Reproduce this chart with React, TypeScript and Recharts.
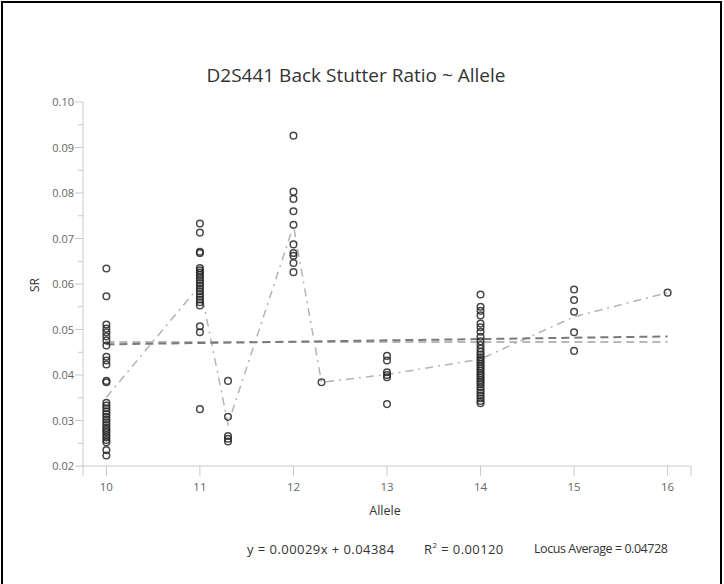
import { ScatterChart, Scatter, XAxis, YAxis } from 'recharts';

// ── Data ────────────────────────────────────────────────────────────
const ALLELES = [10, 11, 11.3, 12, 12.3, 13, 14, 15, 16];

const SR_10 = [
  0.0634, 0.0573, 0.0511, 0.0502, 0.0494, 0.0485, 0.0476, 0.0465, 0.044, 0.0432, 0.0423,
  0.0387, 0.0384, 0.0339, 0.0333, 0.0327, 0.032, 0.0314, 0.0308, 0.0302, 0.0296, 0.029,
  0.0284, 0.0279, 0.0274, 0.0268, 0.0263, 0.0257, 0.0252, 0.0235, 0.0223,
];
const SR_11 = [
  0.0733, 0.0713, 0.0671, 0.0668, 0.0635, 0.063, 0.0625, 0.062, 0.0614, 0.0608, 0.0602,
  0.0596, 0.059, 0.0584, 0.0578, 0.0572, 0.0566, 0.056, 0.0553, 0.0507, 0.0494, 0.0325,
];
const SR_11_3 = [0.0387, 0.0308, 0.0266, 0.026, 0.0254];
const SR_12 = [0.0926, 0.0803, 0.0787, 0.076, 0.073, 0.0687, 0.0668, 0.0662, 0.0646, 0.0626];
const SR_12_3 = [0.0384];
const SR_13 = [0.0442, 0.0432, 0.0406, 0.04, 0.0395, 0.0336];
const SR_14 = [
  0.0577, 0.055, 0.0541, 0.0531, 0.0513, 0.0505, 0.0495, 0.0484, 0.0474, 0.0466, 0.0458,
  0.0451, 0.0445, 0.0439, 0.0434, 0.0429, 0.0424, 0.0419, 0.0414, 0.0409, 0.0404, 0.0399,
  0.0394, 0.0389, 0.0384, 0.0379, 0.0373, 0.0367, 0.0361, 0.0355, 0.0349, 0.0343, 0.0338,
];
const SR_15 = [0.0588, 0.0565, 0.0539, 0.0494, 0.0453];
const SR_16 = [0.0581];

const SR_BY_ALLELE = [SR_10, SR_11, SR_11_3, SR_12, SR_12_3, SR_13, SR_14, SR_15, SR_16];

// per-allele averages (dash-dot line)
const ALLELE_MEANS = [0.0351, 0.0597, 0.0292, 0.0728, 0.0384, 0.0401, 0.0435, 0.0528, 0.0581];

const REG_SLOPE = 0.00029;
const REG_INTERCEPT = 0.04384;
const R_SQUARED = '0.00120';
const LOCUS_AVERAGE = 0.04728;
const LINE_SPAN = [10, 16];

const X_TICKS = [9.75, 10, 11, 12, 13, 14, 15, 16, 16.25];
const Y_TICKS = [
  0.02, 0.025, 0.03, 0.035, 0.04, 0.045, 0.05, 0.055, 0.06, 0.065, 0.07, 0.075, 0.08, 0.085,
  0.09, 0.095, 0.1,
];

// ── Derived series ──────────────────────────────────────────────────
const points = ALLELES.flatMap((a, i) => SR_BY_ALLELE[i].map((sr) => ({ allele: a, sr })));
const meanLine = ALLELES.map((a, i) => ({ allele: a, sr: ALLELE_MEANS[i] }));
const regLine = LINE_SPAN.map((a) => ({ allele: a, sr: REG_SLOPE * a + REG_INTERCEPT }));
const avgLine = LINE_SPAN.map((a) => ({ allele: a, sr: LOCUS_AVERAGE }));

const FONT = "'Open Sans', 'Noto Sans', sans-serif";
const AXIS_COLOR = '#c8c8c8';
const AXIS_X = 83;

const W = 724;
const H = 584;

const OpenCircle = (props: any) => (
  <circle cx={props.cx} cy={props.cy} r={3.3} fill="none" stroke="rgba(40,40,40,0.85)" strokeWidth={1.5} />
);
const NoShape = () => <g />;

const YTick = (props: any) => {
  const { y, payload } = props;
  const v = payload.value as number;
  const major = Math.abs(v * 100 - Math.round(v * 100)) < 1e-6;
  return (
    <g>
      <line x1={AXIS_X - (major ? 8 : 5)} x2={AXIS_X} y1={y} y2={y} stroke={AXIS_COLOR} />
      {major && (
        <text x={AXIS_X - 9} y={y} dy={4} textAnchor="end" fontSize={11} fill="#666" fontFamily={FONT}>
          {v.toFixed(2)}
        </text>
      )}
    </g>
  );
};

const footStyle = {
  position: 'absolute' as const,
  top: 540,
  color: '#333',
  lineHeight: '18px',
  whiteSpace: 'nowrap' as const,
};

export default function App() {
  return (
    <div style={{ position: 'absolute', left: 0, top: 0, width: W, height: H, background: '#fff', fontFamily: FONT, overflow: 'hidden' }}>
      {/* frame */}
      <div style={{ position: 'absolute', left: 1, top: 1, width: 721, height: 640, border: '2px solid #000', boxSizing: 'border-box' }} />

      <div style={{ position: 'absolute', left: 0, width: 712, top: 62, textAlign: 'center', fontSize: 19, color: '#333', lineHeight: '26px' }}>
        D2S441 Back Stutter Ratio ~ Allele
      </div>

      <ScatterChart width={W} height={H} margin={{ top: 102, right: 33, bottom: 88, left: 0 }}>
        <XAxis
          type="number"
          dataKey="allele"
          domain={[9.75, 16.25]}
          ticks={X_TICKS}
          tickFormatter={(v: number) => (v === 9.75 || v === 16.25 ? '' : String(v))}
          height={30}
          tickSize={10}
          tickMargin={7}
          stroke={AXIS_COLOR}
          tick={{ fontSize: 11.5, fill: '#666', fontFamily: FONT }}
          allowDataOverflow
        />
        <YAxis
          type="number"
          dataKey="sr"
          domain={[0.02, 0.1]}
          ticks={Y_TICKS}
          width={AXIS_X}
          stroke={AXIS_COLOR}
          tickLine={false}
          tick={<YTick />}
          interval={0}
          allowDataOverflow
        />
        <Scatter
          data={meanLine}
          line={{ stroke: '#b4b4b4', strokeWidth: 1.5, strokeDasharray: '8 5 2 5' }}
          shape={NoShape}
          isAnimationActive={false}
        />
        <Scatter
          data={avgLine}
          line={{ stroke: '#b8b8b8', strokeWidth: 2, strokeDasharray: '8 5' }}
          shape={NoShape}
          isAnimationActive={false}
        />
        <Scatter
          data={regLine}
          line={{ stroke: '#7a7a7a', strokeWidth: 2, strokeDasharray: '8 5' }}
          shape={NoShape}
          isAnimationActive={false}
        />
        <Scatter data={points} shape={OpenCircle} isAnimationActive={false} />
      </ScatterChart>

      <div style={{ position: 'absolute', left: 20, top: 276, width: 30, height: 18, fontSize: 12, color: '#333', transform: 'rotate(-90deg)', textAlign: 'center', lineHeight: '18px' }}>
        SR
      </div>
      <div style={{ position: 'absolute', left: 335, width: 100, top: 502, textAlign: 'center', fontSize: 12.5, color: '#333', lineHeight: '18px' }}>
        Allele
      </div>

      <div style={{ ...footStyle, left: 247, fontSize: 13, letterSpacing: 0.45 }}>
        y = {REG_SLOPE.toFixed(5)}x + {REG_INTERCEPT.toFixed(5)}
      </div>
      <div style={{ ...footStyle, left: 424, fontSize: 13, letterSpacing: 0.4 }}>
        R<sup style={{ fontSize: 8, verticalAlign: 'top', lineHeight: '10px' }}>2</sup> = {R_SQUARED}
      </div>
      <div style={{ ...footStyle, left: 534, fontSize: 12.5, letterSpacing: -0.45 }}>
        Locus Average = {LOCUS_AVERAGE.toFixed(5)}
      </div>
    </div>
  );
}
